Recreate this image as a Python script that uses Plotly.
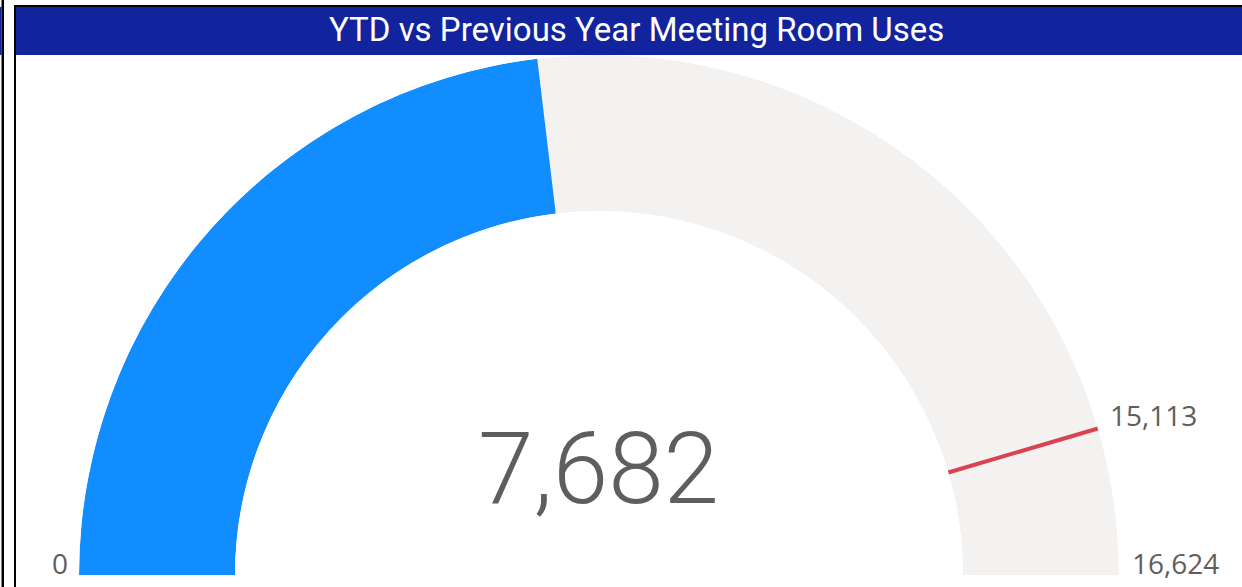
import numpy as np
import plotly.graph_objects as go

# Gauge data
title = "YTD vs Previous Year Meeting Room Uses"
gauge_min = [0]
gauge_max = [16624]
ytd_value = [7682]
previous_year = [15113]

W, H = 1242, 587
BLUE = "#118DFF"
TRACK = "#F3F2F1"
TARGET = "#D9424E"
LABEL = "#605E5C"

# map a value onto the half-circle angle (0 = left end, 180 = right end)
span = gauge_max[0] - gauge_min[0]
def to_deg(v):
    return (np.asarray(v, dtype=float) - gauge_min[0]) / span * 180.0

track_deg = to_deg(gauge_max)
value_deg = to_deg(ytd_value)
target_deg = to_deg(previous_year)

fig = go.Figure()

# grey track
fig.add_trace(go.Barpolar(
    r=[1], base=[0], theta=track_deg / 2, width=track_deg,
    marker=dict(color=TRACK, line=dict(width=0)),
    hoverinfo="skip", showlegend=False,
))
# value arc
fig.add_trace(go.Barpolar(
    r=[1], base=[0], theta=value_deg / 2, width=value_deg,
    marker=dict(color=BLUE, line=dict(width=0)),
    hoverinfo="skip", showlegend=False,
))
# previous-year target marker
fig.add_trace(go.Scatterpolar(
    r=[0, 1], theta=[target_deg[0], target_deg[0]], mode="lines",
    line=dict(color=TARGET, width=4),
    hoverinfo="skip", showlegend=False,
))

fig.update_layout(
    width=W, height=H,
    margin=dict(l=0, r=0, t=0, b=0),
    paper_bgcolor="white",
    plot_bgcolor="white",
    polar=dict(
        domain=dict(x=[79 / W, 1119 / W], y=[12 / H, 532 / H]),
        sector=[0, 180],
        hole=0.7,
        bgcolor="rgba(0,0,0,0)",
        angularaxis=dict(visible=False, rotation=180, direction="clockwise"),
        radialaxis=dict(visible=False, range=[0, 1]),
    ),
)

def px(x):
    return x / W

def py(y):
    return 1 - y / H

shapes = [
    # title bar
    dict(type="rect", xref="paper", yref="paper", x0=px(16), x1=1, y0=py(55), y1=py(7),
         fillcolor="#12239E", line=dict(width=0), layer="below"),
    dict(type="rect", xref="paper", yref="paper", x0=0, x1=px(1.5), y0=py(55), y1=py(7),
         fillcolor="#12239E", line=dict(width=0), layer="below"),
    # frame lines
    dict(type="rect", xref="paper", yref="paper", x0=px(14), x1=1, y0=py(7), y1=py(5),
         fillcolor="black", line=dict(width=0)),
    dict(type="rect", xref="paper", yref="paper", x0=px(1.5), x1=px(4), y0=0, y1=1,
         fillcolor="black", line=dict(width=0)),
    dict(type="rect", xref="paper", yref="paper", x0=px(14), x1=px(16), y0=0, y1=py(5),
         fillcolor="black", line=dict(width=0)),
]
fig.update_layout(shapes=shapes)

annotations = [
    dict(text=title, x=px(637), y=py(29), xref="paper", yref="paper",
         showarrow=False, xanchor="center", yanchor="middle",
         font=dict(family="Roboto", size=33, color="white", weight=400)),
    dict(text=f"{ytd_value[0]:,}", x=px(598), y=py(468), xref="paper", yref="paper",
         showarrow=False, xanchor="center", yanchor="middle",
         font=dict(family="Roboto", size=100, color=LABEL, weight=300)),
    dict(text=f"{gauge_min[0]:,}", x=px(60), y=py(563), xref="paper", yref="paper",
         showarrow=False, xanchor="center", yanchor="middle",
         font=dict(family="Open Sans", size=28, color=LABEL)),
    dict(text=f"{gauge_max[0]:,}", x=px(1130), y=py(563), xref="paper", yref="paper",
         showarrow=False, xanchor="left", yanchor="middle",
         font=dict(family="Open Sans", size=28, color=LABEL)),
    dict(text=f"{previous_year[0]:,}", x=px(1108), y=py(415), xref="paper", yref="paper",
         showarrow=False, xanchor="left", yanchor="middle",
         font=dict(family="Open Sans", size=28, color=LABEL)),
]
fig.update_layout(annotations=annotations)

fig.write_html("out.html")
